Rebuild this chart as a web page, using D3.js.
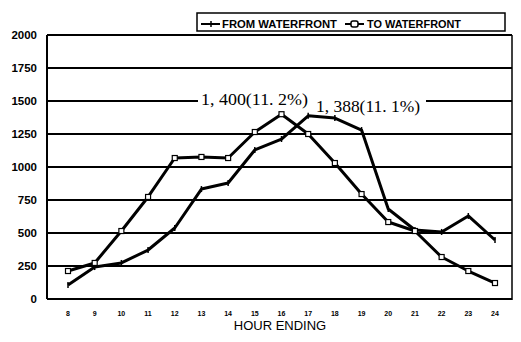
<!DOCTYPE html>
<html><head><meta charset="utf-8">
<script src="https://cdn.jsdelivr.net/npm/d3@7"></script>
<style>body{margin:0;background:#fff}svg{display:block}</style>
</head><body>
<script>
const hours = ["8","9","10","11","12","13","14","15","16","17","18","19","20","21","22","23","24"];
const fromWaterfront = [106,242,273,371,538,833,879,1129,1212,1388,1371,1280,682,523,508,629,447];
const toWaterfront = [212,273,515,773,1068,1076,1068,1265,1400,1250,1030,795,583,515,318,212,121];
const yTicks = [0,250,500,750,1000,1250,1500,1750,2000];
const seriesNames = ["FROM WATERFRONT","TO WATERFRONT"];
const annotations = [
  {hour:"16", value:1400, label:"1, 400(11. 2%)"},
  {hour:"17", value:1388, label:"1, 388(11. 1%)"}
];

(function(){
const W = 521, H = 342;
const svg = d3.select("body").append("svg").attr("width", W).attr("height", H);
const mL = 47, mR = 512, mT = 35, mB = 299;
const x = d3.scalePoint().domain(hours).range([68, 495]);
const y = d3.scaleLinear().domain([0, 2000]).range([mB, mT]);

// gridlines
svg.append("g").selectAll("line").data(yTicks).join("line")
  .attr("x1", mL).attr("x2", mR)
  .attr("y1", d => y(d)).attr("y2", d => y(d))
  .attr("stroke", "#000").attr("stroke-width", 2);
// frame
svg.append("line").attr("x1", mL).attr("x2", mL).attr("y1", mT).attr("y2", mB)
  .attr("stroke", "#000").attr("stroke-width", 2);
svg.append("line").attr("x1", mR).attr("x2", mR).attr("y1", mT).attr("y2", mB+1)
  .attr("stroke", "#000").attr("stroke-width", 1.5);

// y labels
svg.append("g").selectAll("text").data(yTicks).join("text")
  .attr("x", 37).attr("y", d => y(d) + 4)
  .attr("text-anchor", "end")
  .attr("font-family", "Liberation Sans, Arial, sans-serif")
  .attr("font-weight", "bold").attr("font-size", 11.5)
  .text(d => d);

// x labels
svg.append("g").selectAll("text").data(hours).join("text")
  .attr("x", d => x(d)).attr("y", 316)
  .attr("text-anchor", "middle")
  .attr("font-family", "Liberation Sans, Arial, sans-serif")
  .attr("font-weight", "bold").attr("font-size", 7)
  .text(d => d);

svg.append("text").attr("x", 280).attr("y", 330).attr("text-anchor", "middle")
  .attr("font-family", "Liberation Sans, Arial, sans-serif").attr("font-size", 13)
  .text("HOUR ENDING");

// annotations (white backing)
const annPos = [{x0:201, y:105, w:107}, {x0:316, y:112, w:104}];
svg.append("rect").attr("x", 198).attr("y", 91).attr("width", 228).attr("height", 14)
  .attr("fill", "#fff");
annotations.forEach((a, i) => {
  const p = annPos[i];
  svg.append("rect").attr("x", p.x0 - 3).attr("y", p.y - 14).attr("width", p.w + 6).attr("height", 16)
    .attr("fill", "#fff");
  svg.append("text").attr("x", p.x0).attr("y", p.y)
    .attr("font-family", "Liberation Serif, 'DejaVu Serif', serif").attr("font-size", 17)
    .attr("textLength", p.w).attr("lengthAdjust", "spacingAndGlyphs")
    .text(a.label);
});

const line = d3.line().x((d, i) => x(hours[i])).y(d => y(d));
svg.append("path").datum(fromWaterfront).attr("d", line)
  .attr("fill", "none").attr("stroke", "#000").attr("stroke-width", 3).attr("stroke-linejoin", "round");
svg.append("path").datum(toWaterfront).attr("d", line)
  .attr("fill", "none").attr("stroke", "#000").attr("stroke-width", 3).attr("stroke-linejoin", "round");

// markers
svg.append("g").selectAll("line").data(fromWaterfront).join("line")
  .attr("x1", (d, i) => x(hours[i])).attr("x2", (d, i) => x(hours[i]))
  .attr("y1", d => y(d) - 3).attr("y2", d => y(d) + 3)
  .attr("stroke", "#000").attr("stroke-width", 1.5);
svg.append("g").selectAll("rect").data(toWaterfront).join("rect")
  .attr("x", (d, i) => x(hours[i]) - 2.5).attr("y", d => y(d) - 2.5)
  .attr("width", 5).attr("height", 5)
  .attr("fill", "#fff").attr("stroke", "#000").attr("stroke-width", 1.2);

// legend
const lg = svg.append("g");
lg.append("rect").attr("x", 197).attr("y", 13).attr("width", 308).attr("height", 18)
  .attr("fill", "#fff").attr("stroke", "#000").attr("stroke-width", 1.5);
const legItems = [
  {name: seriesNames[0], sx: 201, tx: 222, tw: 115, marker: "tick"},
  {name: seriesNames[1], sx: 345, tx: 367, tw: 94, marker: "square"}
];
legItems.forEach(it => {
  lg.append("line").attr("x1", it.sx).attr("x2", it.sx + 19).attr("y1", 24).attr("y2", 24)
    .attr("stroke", "#000").attr("stroke-width", 2);
  if (it.marker === "tick") {
    lg.append("line").attr("x1", it.sx + 10).attr("x2", it.sx + 10).attr("y1", 21).attr("y2", 27)
      .attr("stroke", "#000").attr("stroke-width", 1.5);
  } else {
    lg.append("rect").attr("x", it.sx + 6).attr("y", 21).attr("width", 7).attr("height", 6)
      .attr("fill", "#fff").attr("stroke", "#000").attr("stroke-width", 1.5).attr("rx", 2);
  }
  lg.append("text").attr("x", it.tx).attr("y", 28)
    .attr("font-family", "Liberation Sans, Arial, sans-serif").attr("font-weight", "bold")
    .attr("font-size", 11).attr("textLength", it.tw).attr("lengthAdjust", "spacingAndGlyphs")
    .text(it.name);
});
})();
</script>
</body></html>
